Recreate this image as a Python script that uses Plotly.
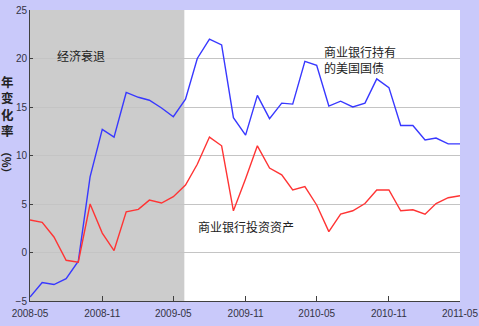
import plotly.graph_objects as go
import pandas as pd

months = pd.date_range("2008-05-01", "2011-05-01", freq="MS")

treasuries = [-4.6, -3.1, -3.3, -2.7, -0.9, 7.8, 12.7, 11.9, 16.5, 16.0, 15.7, 14.9, 14.0,
              15.8, 20.0, 22.0, 21.4, 13.9, 12.1, 16.2, 13.8, 15.4, 15.3, 19.7, 19.3,
              15.1, 15.6, 15.0, 15.4, 17.9, 17.0, 13.1, 13.1, 11.6, 11.8, 11.2, 11.2]
investments = [3.35, 3.1, 1.6, -0.8, -1.0, 5.0, 2.0, 0.2, 4.2, 4.45, 5.4, 5.1, 5.75,
               6.96, 9.1, 11.9, 11.0, 4.3, 7.6, 11.0, 8.7, 8.0, 6.45, 6.8, 4.9,
               2.15, 3.95, 4.3, 5.05, 6.45, 6.45, 4.3, 4.4, 3.95, 5.05, 5.65, 5.85]

recession = ["2008-05-01", "2009-05-29"]
tick_dates = ["2008-05-01", "2008-11-01", "2009-05-01", "2009-11-01",
              "2010-05-01", "2010-11-01", "2011-05-01"]
tick_text = ["2008-05", "2008-11", "2009-05", "2009-11", "2010-05", "2010-11", "2011-05"]
y_ticks = [-5, 0, 5, 10, 15, 20, 25]
y_title = "年<br>变<br>化<br>率"

# plot area in pixels: x 30..460, y 10..301
L, R, T, B = 30, 460, 10, 301
def px(x):
    return (x - L) / (R - L)
def py(y):
    return (B - y) / (B - T)

fig = go.Figure()
fig.add_shape(type="rect", xref="x", yref="paper", x0=recession[0], x1=recession[1],
              y0=0, y1=1, fillcolor="#CCCCCC", line_width=0, layer="between")
fig.add_trace(go.Scatter(x=months, y=treasuries, mode="lines",
                         line=dict(color="#3838FF", width=1.4), showlegend=False))
fig.add_trace(go.Scatter(x=months, y=investments, mode="lines",
                         line=dict(color="#FF3434", width=1.4), showlegend=False))

cjk = "Noto Sans CJK SC"
txt = dict(family=cjk, size=12, color="#222222")
fig.add_annotation(text="经济衰退", xref="paper", yref="paper", x=px(81), y=py(55),
                   xanchor="center", yanchor="middle", showarrow=False, font=txt)
fig.add_annotation(text="商业银行持有<br>的美国国债", xref="paper", yref="paper",
                   x=px(322), y=py(60), xanchor="left", yanchor="middle", align="left",
                   showarrow=False, font=txt)
fig.add_annotation(text="商业银行投资资产", xref="paper", yref="paper",
                   x=px(196), y=py(226), xanchor="left", yanchor="middle",
                   showarrow=False, font=txt)
fig.add_annotation(text="<b>" + y_title + "</b>", xref="paper", yref="paper",
                   x=px(7), y=py(105.5), xanchor="center", yanchor="middle",
                   showarrow=False, borderpad=0,
                   font=dict(family=cjk, size=12.5, color="#222222"))
fig.add_annotation(text="<b>（%）</b>", xref="paper", yref="paper", textangle=90,
                   x=px(7), y=py(162), xanchor="center", yanchor="middle", showarrow=False,
                   borderpad=0, font=dict(family=cjk, size=11, color="#222222"))

fig.update_layout(
    width=479, height=326,
    margin=dict(l=L, r=479 - R, t=T, b=326 - B),
    paper_bgcolor="#C9C9FA",
    plot_bgcolor="#FFFFFF",
    font=dict(family="Liberation Sans", size=10, color="#333344"),
)
fig.update_xaxes(range=["2008-05-01", "2011-05-01"], tickvals=tick_dates, ticktext=tick_text,
                 showgrid=False, showline=True, linecolor="#404040", linewidth=1,
                 ticks="inside", ticklen=5, tickcolor="#404040", zeroline=False,
                 automargin=False, ticklabelstandoff=3)
fig.update_yaxes(range=[-5, 25], tickvals=y_ticks, showgrid=True, gridcolor="#C4C4C4",
                 gridwidth=1, showline=True, linecolor="#404040", linewidth=1,
                 ticks="inside", ticklen=3, tickcolor="#404040", zeroline=False,
                 automargin=False)

fig.write_html("out.html")
